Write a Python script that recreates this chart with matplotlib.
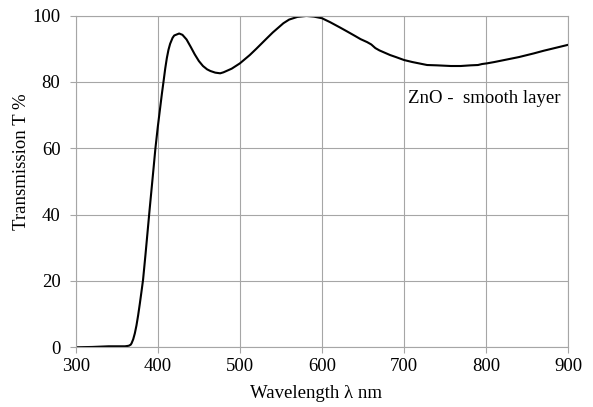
import matplotlib.pyplot as plt

# wavelength (nm) and transmission (%)
wavelength = [300, 320, 340, 350, 355, 360, 363, 365, 367, 368, 370, 372, 374, 376,
              378, 380, 382, 385, 390, 395, 397, 400, 405, 407, 409, 411, 413, 415,
              418, 420, 426, 430, 435, 440, 445, 450, 455, 460, 464, 470, 476, 480,
              490, 500, 512, 520, 533, 540, 553, 560, 570, 581, 590, 600, 610, 622,
              630, 640, 647, 655, 660, 665, 670, 683, 690, 700, 710, 728, 740, 757,
              769, 781, 790, 795, 801, 810, 822, 830, 840, 858, 870, 880, 890, 900]
transmission = [0.0, 0.1, 0.3, 0.3, 0.3, 0.3, 0.4, 0.5, 0.8, 1.2, 2.4, 4.2, 6.6, 9.6,
                13.0, 16.6, 20.3, 28.0, 41.5, 54.5, 59.8, 66.5, 76.5, 80.2, 84.0, 87.2, 89.7, 91.5,
                93.3, 94.0, 94.6, 94.2, 92.8, 90.6, 88.3, 86.3, 84.8, 83.8, 83.3, 82.8, 82.6, 82.9,
                84.0, 85.6, 88.1, 90.0, 93.2, 94.9, 97.7, 98.8, 99.6, 99.9, 99.7, 99.2, 98.0, 96.4,
                95.3, 93.9, 92.9, 92.0, 91.3, 90.2, 89.5, 88.1, 87.5, 86.6, 86.0, 85.1, 85.0, 84.8,
                84.8, 85.0, 85.1, 85.4, 85.6, 86.0, 86.6, 87.0, 87.5, 88.6, 89.4, 90.0, 90.6, 91.2]

x_ticks = [300, 400, 500, 600, 700, 800, 900]
y_ticks = [0, 20, 40, 60, 80, 100]

plt.rcParams['font.family'] = ['Liberation Serif', 'DejaVu Serif']
fs = 13.5

fig = plt.figure(figsize=(5.93, 4.07), dpi=100)
ax = fig.add_axes([0.1277, 0.1467, 0.8306, 0.815])

grid_col = '#a6a6a6'
ax.grid(True, color=grid_col, linewidth=0.8)
ax.set_axisbelow(True)
for s in ax.spines.values():
    s.set_color(grid_col)
    s.set_linewidth(0.8)

ax.plot(wavelength, transmission, color='black', linewidth=1.5)

ax.set_xlim(300, 900)
ax.set_ylim(0, 100)
ax.set_xticks(x_ticks)
ax.set_yticks(y_ticks)
ax.tick_params(direction='out', length=4, width=0.8, color=grid_col,
               labelsize=fs, labelcolor='black')
ax.tick_params(axis='y', pad=7)
ax.tick_params(axis='x', pad=4)

ax.set_xlabel('Wavelength λ nm', fontsize=fs, va='center')
ax.set_ylabel('Transmission T %', fontsize=fs, va='center')
ax.xaxis.set_label_coords(0.488, -0.138)
ax.yaxis.set_label_coords(-0.11, 0.56)

ax.text(705, 75, 'ZnO -  smooth layer', fontsize=fs, ha='left', va='center')

fig.savefig('out.png', dpi=100)
